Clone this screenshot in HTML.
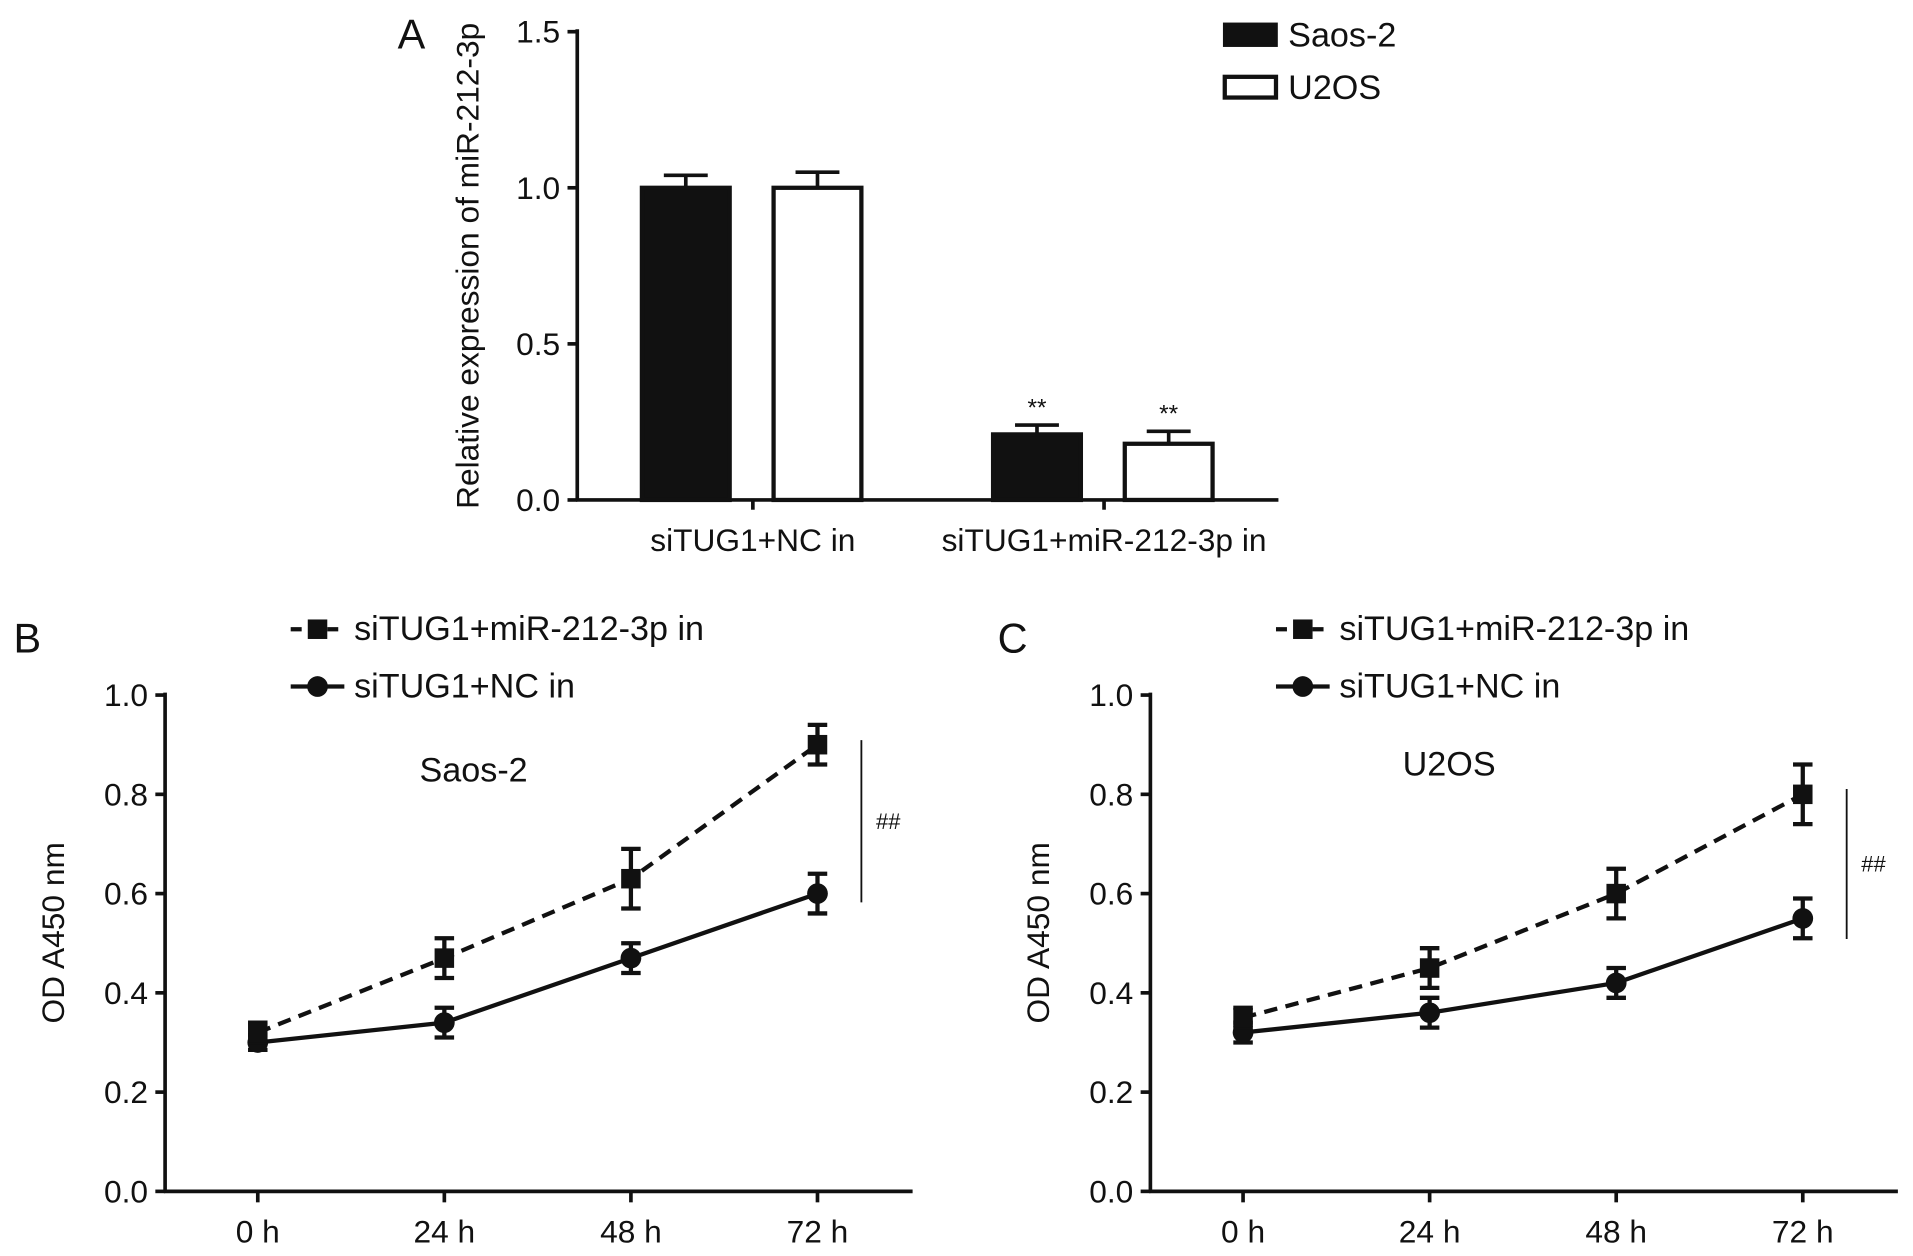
<!DOCTYPE html>
<html><head><meta charset="utf-8"><style>html,body{margin:0;padding:0;background:#fff}svg{display:block}text{font-family:"Liberation Sans",Arial,sans-serif;fill:#111}</style></head>
<body>
<svg id="fig" width="1913" height="1256" viewBox="0 0 1568 1030" xmlns="http://www.w3.org/2000/svg"></svg>
<script>
const barGroups = ["siTUG1+NC in", "siTUG1+miR-212-3p in"];
const barSaos = [1.0, 0.21];
const barSaosErr = [0.04, 0.03];
const barU2os = [1.0, 0.18];
const barU2osErr = [0.05, 0.04];
const barTicks = [0.0, 0.5, 1.0, 1.5];
const timeLabels = ["0 h", "24 h", "48 h", "72 h"];
const bMir = [0.32, 0.47, 0.63, 0.90];
const bMirErr = [0.02, 0.04, 0.06, 0.04];
const bNc = [0.30, 0.34, 0.47, 0.60];
const bNcErr = [0.015, 0.03, 0.03, 0.04];
const cMir = [0.35, 0.45, 0.60, 0.80];
const cMirErr = [0.02, 0.04, 0.05, 0.06];
const cNc = [0.32, 0.36, 0.42, 0.55];
const cNcErr = [0.02, 0.03, 0.03, 0.04];
const lineTicks = [0.0, 0.2, 0.4, 0.6, 0.8, 1.0];

const svg = document.getElementById('fig');
const NS = 'http://www.w3.org/2000/svg';
const FS = 26, FL = 28;
function el(tag, attrs, parent) {
  const e = document.createElementNS(NS, tag);
  for (const k in attrs) e.setAttribute(k, attrs[k]);
  (parent || svg).appendChild(e);
  return e;
}
function txt(x, y, s, size, anchor, parent, extra) {
  const t = el('text', Object.assign({x: x, y: y, 'font-size': size, 'text-anchor': anchor || 'middle', 'dominant-baseline': 'central'}, extra || {}), parent);
  t.textContent = s;
  return t;
}

// ---------- Panel A ----------
const gA = el('g', {});


const ayA = v => 410 - v / 1.5 * 384;
const groupX = [617, 905];
el('line', {x1: 473, y1: 24, x2: 473, y2: 411, stroke: '#111', 'stroke-width': 3}, gA);
el('line', {x1: 472, y1: 410, x2: 1048, y2: 410, stroke: '#111', 'stroke-width': 3}, gA);
barTicks.forEach(v => {
  el('line', {x1: 465, y1: ayA(v), x2: 473, y2: ayA(v), stroke: '#111', 'stroke-width': 3}, gA);
  const t = txt(459, ayA(v), v.toFixed(1), FS, 'end', gA);
  
  
});
barGroups.forEach((g, i) => {
  el('line', {x1: groupX[i], y1: 410, x2: groupX[i], y2: 418, stroke: '#111', 'stroke-width': 3}, gA);
  const t = txt(groupX[i], 443, g, FS, 'middle', gA);
  
  
  [[barSaos, barSaosErr, -55, '#111'], [barU2os, barU2osErr, 53, '#fff']].forEach(([vals, errs, off, fill], si) => {
    const cx = groupX[i] + off;
    const top = ayA(vals[i]);
    const eTop = ayA(vals[i] + errs[i]);
    el('line', {x1: cx, y1: top, x2: cx, y2: eTop, stroke: '#111', 'stroke-width': 3}, gA);
    el('line', {x1: cx - 18, y1: eTop, x2: cx + 18, y2: eTop, stroke: '#111', 'stroke-width': 3}, gA);
    const r = el('rect', {x: cx - 36, y: top, width: 72, height: 410 - top, fill: fill, stroke: '#111', 'stroke-width': 3.5}, gA);
    
    
    if (i === 1) txt(cx, eTop - 14, '**', 20, 'middle', gA);
  });
});
const ylA = txt(0, 0, 'Relative expression of miR-212-3p', FS, 'middle', gA, {transform: 'translate(383,218) rotate(-90)'});


txt(337, 28, 'A', 34, 'middle', gA);
const lg1 = el('rect', {x: 1004, y: 20, width: 42, height: 17, fill: '#111', stroke: '#111', 'stroke-width': 3}, gA);


txt(1056, 29, 'Saos-2', FL, 'start', gA);
const lg2 = el('rect', {x: 1004, y: 63, width: 42, height: 17, fill: '#fff', stroke: '#111', 'stroke-width': 3.5}, gA);


txt(1056, 72, 'U2OS', FL, 'start', gA);

// ---------- Line panels ----------
function linePanel(ox, letter, title, titleX, titleY, mir, mirErr, nc, ncErr, sigTop, sigBot, name) {
  const g = el('g', {});
  
  
  const x0 = ox;
  const ay = v => 977 - v * 407;
  const ax = i => x0 + 76 + i * 153;
  el('line', {x1: x0, y1: 568, x2: x0, y2: 978, stroke: '#111', 'stroke-width': 3}, g);
  el('line', {x1: x0 - 1, y1: 977, x2: x0 + 613, y2: 977, stroke: '#111', 'stroke-width': 3}, g);
  lineTicks.forEach(v => {
    el('line', {x1: x0 - 8, y1: ay(v), x2: x0, y2: ay(v), stroke: '#111', 'stroke-width': 3}, g);
    txt(x0 - 14, ay(v), v.toFixed(1), FS, 'end', g);
  });
  timeLabels.forEach((l, i) => {
    el('line', {x1: ax(i), y1: 977, x2: ax(i), y2: 986, stroke: '#111', 'stroke-width': 3}, g);
    txt(ax(i), 1010, l, FS, 'middle', g);
  });
  const yl = txt(0, 0, 'OD A450 nm', FS, 'middle', g, {transform: 'translate(' + (x0 - 92) + ',765) rotate(-90)'});
  
  
  txt(x0 - 113, 523, letter, 34, 'middle', g);
  txt(titleX, titleY, title, FL, 'middle', g);
  [[nc, ncErr, false], [mir, mirErr, true]].forEach(([vals, errs, dashed]) => {
    const pts = vals.map((v, i) => ax(i) + ',' + ay(v)).join(' ');
    const pl = el('polyline', {points: pts, fill: 'none', stroke: '#111', 'stroke-width': 3.5, 'stroke-dasharray': dashed ? '11,7' : 'none'}, g);
    
    
    vals.forEach((v, i) => {
      const x = ax(i), y1 = ay(v + errs[i]), y2 = ay(v - errs[i]);
      el('line', {x1: x, y1: y1, x2: x, y2: y2, stroke: '#111', 'stroke-width': 3.5}, g);
      el('line', {x1: x - 8, y1: y1, x2: x + 8, y2: y1, stroke: '#111', 'stroke-width': 3.5}, g);
      el('line', {x1: x - 8, y1: y2, x2: x + 8, y2: y2, stroke: '#111', 'stroke-width': 3.5}, g);
      const m = dashed ? el('rect', {x: x - 8, y: ay(v) - 8, width: 16, height: 16, fill: '#111'}, g)
                       : el('circle', {cx: x, cy: ay(v), r: 8.5, fill: '#111'}, g);
      
      
    });
  });
  const lx = x0 + 103;
  const l1 = el('line', {x1: lx, y1: 516, x2: lx + 44, y2: 516, stroke: '#111', 'stroke-width': 3.5, 'stroke-dasharray': '9,6'}, g);
  
  
  el('rect', {x: lx + 14, y: 508, width: 16, height: 16, fill: '#111'}, g);
  txt(lx + 52, 516, 'siTUG1+miR-212-3p in', FL, 'start', g);
  const l2 = el('line', {x1: lx, y1: 563, x2: lx + 44, y2: 563, stroke: '#111', 'stroke-width': 3.5}, g);
  
  
  el('circle', {cx: lx + 22, cy: 563, r: 8.5, fill: '#111'}, g);
  txt(lx + 52, 563, 'siTUG1+NC in', FL, 'start', g);
  const sx = x0 + 571;
  el('line', {x1: sx, y1: sigTop, x2: sx, y2: sigBot, stroke: '#111', 'stroke-width': 1.5}, g);
  txt(sx + 22, (sigTop + sigBot) / 2, '##', 18, 'middle', g);
}
linePanel(135, 'B', 'Saos-2', 388, 632, bMir, bMirErr, bNc, bNcErr, 607, 740, 'panel-b-line-chart');
linePanel(943, 'C', 'U2OS', 1188, 627, cMir, cMirErr, cNc, cNcErr, 647, 770, 'panel-c-line-chart');
</script>
</body></html>
